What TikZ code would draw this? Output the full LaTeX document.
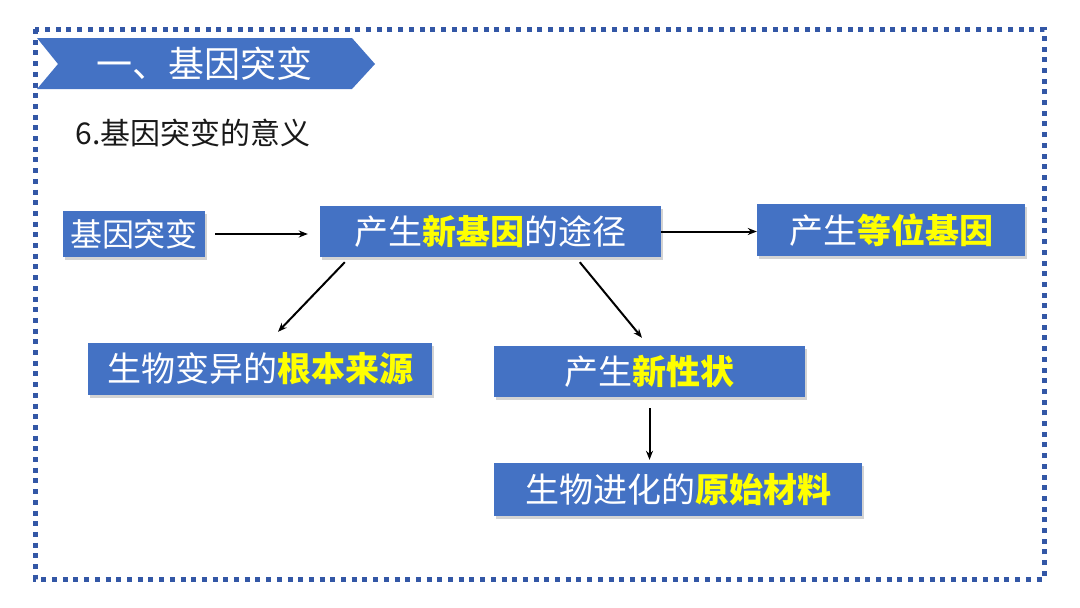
\documentclass[tikz,border=0pt]{standalone}
\usepackage{fontspec}
\setmainfont{Noto Sans CJK SC}
\usetikzlibrary{shadows,arrows.meta}
\definecolor{boxblue}{HTML}{4472C4}
\definecolor{dotblue}{HTML}{3357A6}
\definecolor{hlyellow}{HTML}{FFFF00}
\newcommand\yel[1]{{\color{hlyellow}\bfseries #1}}

\begin{document}
\begin{tikzpicture}[x=1pt,y=-1pt,>={Stealth[length=9pt,width=7pt]},
  box/.style={fill=boxblue,text=white,inner sep=0pt,font=\fontsize{34}{40}\selectfont,
    drop shadow={shadow xshift=1.5pt,shadow yshift=-2.5pt,opacity=0.35}},
  conn/.style={->,line width=2pt}]
\useasboundingbox (0,0) rectangle (1080,608);

% frame and title bar
\draw[dotblue,line width=5pt,dash pattern=on 5pt off 5.7pt] (35,29) rectangle (1044,579);
\fill[boxblue] (37,38) -- (352,38) -- (375,64) -- (352,89) -- (37,89) -- (58,64) -- cycle;
\node[text=white,font=\fontsize{36}{40}\selectfont] (title) at (204,64) {一、基因突变};
\node[anchor=west,text=black!90,font=\fontsize{30}{36}\selectfont] (sub) at (72,133) {6.基因突变的意义};

% boxes
\node[box,minimum width=142pt,minimum height=46pt,font=\fontsize{32}{36}\selectfont] (mut) at (134,234) {基因突变};
\node[box,minimum width=341pt,minimum height=51pt] (way)    at (490.5,231.5) {产生\yel{新基因}的途径};
\node[box,minimum width=268pt,minimum height=52pt] (allele) at (891,230)     {产生\yel{等位基因}};
\node[box,minimum width=344pt,minimum height=52pt] (source) at (260,369)     {生物变异的\yel{根本来源}};
\node[box,minimum width=311pt,minimum height=51pt] (trait)  at (649.5,371.5) {产生\yel{新性状}};
\node[box,minimum width=368pt,minimum height=53pt] (raw)    at (678,489.5)   {生物进化的\yel{原始材料}};

% arrows
\draw[conn,shorten <=10pt,shorten >=12pt] (mut.east) -- (mut.east -| way.west);
\draw[conn] (way.east) -- (way.east -| allele.west);
\draw[conn] ([xshift=25pt,yshift=-5pt]way.south west) -- ([xshift=18pt,yshift=11pt]source.north);
\draw[conn] ([xshift=260pt,yshift=-5pt]way.south west) -- ([xshift=-7.5pt,yshift=8pt]trait.north);
\draw[conn] ([yshift=-11pt]trait.south) -- ([yshift=3pt]trait.south |- raw.north);
\end{tikzpicture}
\end{document}
